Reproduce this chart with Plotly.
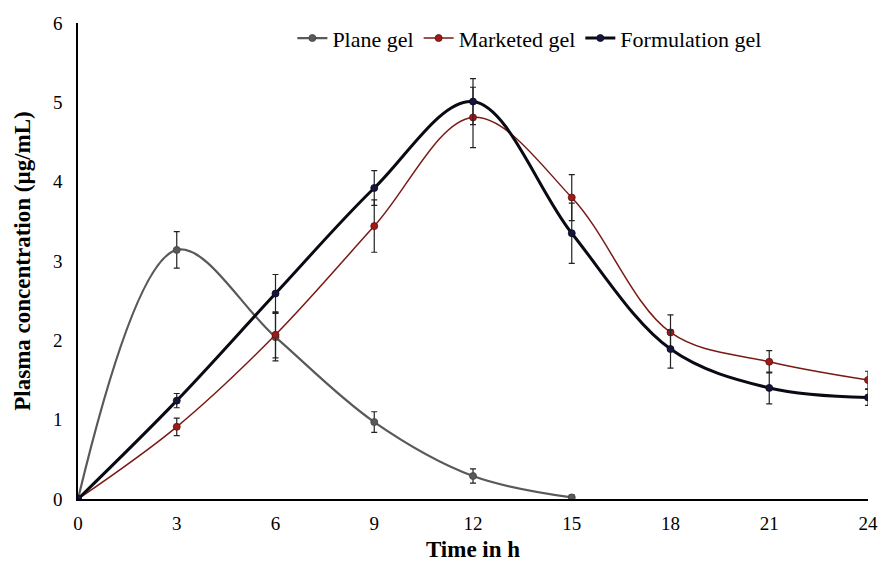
import plotly.graph_objects as go

time_h = [0, 3, 6, 9, 12, 15, 18, 21, 24]

plane_time = [0, 3, 6, 9, 12, 15]
plane_gel = [0, 3.14, 2.04, 0.97, 0.29, 0.02]
plane_err = [0, 0.23, 0.30, 0.13, 0.09, 0.03]

marketed_gel = [0, 0.91, 2.07, 3.44, 4.81, 3.80, 2.10, 1.73, 1.50]
marketed_err = [0, 0.11, 0.29, 0.33, 0.38, 0.29, 0.22, 0.14, 0.11]

formulation_gel = [0, 1.24, 2.59, 3.92, 5.01, 3.35, 1.89, 1.40, 1.28]
formulation_err = [0, 0.09, 0.24, 0.22, 0.29, 0.38, 0.24, 0.20, 0.10]

x_ticks = [0, 3, 6, 9, 12, 15, 18, 21, 24]
y_ticks = [0, 1, 2, 3, 4, 5, 6]

FONT = "Liberation Serif, Times New Roman, serif"

def err(arr):
    return dict(type="data", array=arr, visible=True, color="#222222", thickness=1.2, width=3)

fig = go.Figure()
fig.add_trace(go.Scatter(
    x=plane_time, y=plane_gel, name="Plane gel", mode="lines+markers",
    line=dict(color="#595959", width=2.2, shape="spline", smoothing=1.0),
    marker=dict(color="#595959", size=7, line=dict(color="#404040", width=0.8)),
    error_y=err(plane_err),
))
fig.add_trace(go.Scatter(
    x=time_h, y=marketed_gel, name="Marketed gel", mode="lines+markers",
    line=dict(color="#7a1a14", width=1.5, shape="spline", smoothing=1.0),
    marker=dict(color="#a01a1a", size=7, line=dict(color="#5a0f0f", width=0.8)),
    error_y=err(marketed_err),
))
fig.add_trace(go.Scatter(
    x=time_h, y=formulation_gel, name="Formulation gel", mode="lines+markers",
    line=dict(color="#0a0a14", width=3, shape="spline", smoothing=1.0),
    marker=dict(color="#14143c", size=7, line=dict(color="#0a0a1e", width=0.8)),
    error_y=err(formulation_err),
))

fig.update_layout(
    width=883, height=563,
    margin=dict(l=78, r=15, t=23, b=64, autoexpand=False),
    paper_bgcolor="white", plot_bgcolor="white",
    font=dict(family=FONT, size=19, color="black"),
    showlegend=True,
    legend=dict(orientation="h", x=0.572, y=0.968, xanchor="center", yanchor="middle",
                font=dict(family=FONT, size=22, color="black"), bgcolor="rgba(0,0,0,0)",
                itemwidth=30, tracegroupgap=0),
    xaxis=dict(
        range=[0, 24], tickvals=x_ticks, ticktext=[str(v) for v in x_ticks],
        showgrid=False, zeroline=False, showline=True, linecolor="black", linewidth=1.5,
        ticks="", ticklabelstandoff=6, automargin=False,
        title=dict(text="<b>Time in h</b>", font=dict(family=FONT, size=23), standoff=8),
        tickfont=dict(family=FONT, size=19),
    ),
    yaxis=dict(
        range=[0, 6], tickvals=y_ticks, ticktext=[str(v) for v in y_ticks],
        showgrid=False, zeroline=False, showline=True, linecolor="black", linewidth=1.5,
        ticks="", ticklabelstandoff=10, automargin=False,
        title=dict(text="<b>Plasma concentration (µg/mL)</b>", font=dict(family=FONT, size=23), standoff=16),
        tickfont=dict(family=FONT, size=19),
    ),
)

fig.write_html(
    "out.html",
    config={"displayModeBar": False},
    post_script="document.body.style.margin='0';document.body.style.overflow='hidden';",
)
